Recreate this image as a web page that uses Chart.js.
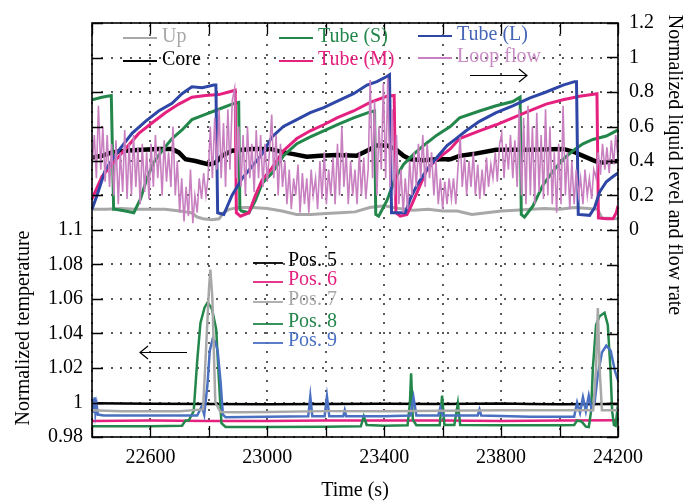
<!DOCTYPE html>
<html>
<head>
<meta charset="utf-8">
<script src="https://cdn.jsdelivr.net/npm/chart.js@4.4.0/dist/chart.umd.min.js"></script>
<style>
  html, body { margin: 0; padding: 0; background: #fff; }
</style>
</head>
<body>
<canvas id="levelChart" width="683" height="501"></canvas>
<script>
// ---- axes ----
const timeTicks = [22400, 22600, 22800, 23000, 23200, 23400, 23600, 23800, 24000, 24200];
const timeLabels = [22600, 23000, 23400, 23800, 24200];
const tempTicks = [0.98, 1.0, 1.02, 1.04, 1.06, 1.08, 1.1, 1.12, 1.14, 1.16, 1.18, 1.2, 1.22];
const tempLabels = [0.98, 1.0, 1.02, 1.04, 1.06, 1.08, 1.1];
const levelTicks = [-1.2, -1.0, -0.8, -0.6, -0.4, -0.2, 0, 0.2, 0.4, 0.6, 0.8, 1.0, 1.2];
const levelLabels = [0, 0.2, 0.4, 0.6, 0.8, 1.0, 1.2];

// ---- normalized liquid level (right axis) ----
const upTime = [22400, 22450, 22500, 22550, 22600, 22650, 22700, 22720, 22740, 22760,
                22780, 22810, 22835, 22850, 22870, 22900, 22950, 23000, 23050, 23100,
                23150, 23200, 23250, 23300, 23350, 23400, 23450, 23500, 23550, 23600,
                23650, 23700, 23750, 23800, 23850, 23900, 23950, 24000, 24050, 24100,
                24130, 24145, 24200];
const upLevel = [0.12, 0.12, 0.125, 0.12, 0.12, 0.12, 0.11, 0.105, 0.1, 0.075,
                 0.065, 0.06, 0.065, 0.1, 0.12, 0.13, 0.13, 0.125, 0.11, 0.09,
                 0.09, 0.095, 0.1, 0.105, 0.13, 0.14, 0.125, 0.115, 0.12, 0.11,
                 0.11, 0.09, 0.1, 0.11, 0.115, 0.12, 0.125, 0.12, 0.13, 0.125,
                 0.12, 0.07, 0.065];

const coreTime = [22400, 22434, 22468, 22514, 22571, 22628, 22674, 22697, 22720, 22754,
                  22777, 22800, 22822, 22845, 22879, 22948, 23010, 23055, 23090, 23135,
                  23181, 23238, 23306, 23341, 23375, 23409, 23438, 23466, 23489, 23535,
                  23580, 23626, 23658, 23703, 23783, 23897, 24012, 24046, 24080, 24114,
                  24137, 24200];
const coreLevel = [0.42, 0.43, 0.45, 0.46, 0.465, 0.47, 0.47, 0.45, 0.41, 0.40,
                   0.39, 0.38, 0.39, 0.43, 0.46, 0.47, 0.47, 0.45, 0.44, 0.425,
                   0.43, 0.435, 0.43, 0.46, 0.49, 0.49, 0.47, 0.43, 0.41, 0.405,
                   0.41, 0.41, 0.43, 0.44, 0.465, 0.465, 0.47, 0.455, 0.43, 0.405,
                   0.39, 0.40];

const tubeSTime = [22400, 22434, 22466, 22474, 22480, 22514, 22543, 22566, 22588, 22611,
                   22640, 22674, 22708, 22742, 22788, 22834, 22879, 22902, 22906, 22912,
                   22937, 22959, 22982, 23016, 23055, 23101, 23147, 23193, 23238, 23295,
                   23352, 23367, 23371, 23381, 23409, 23438, 23466, 23501, 23535, 23580,
                   23626, 23658, 23726, 23783, 23840, 23865, 23869, 23880, 23909, 23943,
                   23977, 24012, 24046, 24080, 24114, 24160, 24200];
const tubeSLevel = [0.755, 0.77, 0.78, 0.12, 0.12, 0.11, 0.1, 0.18, 0.3, 0.39,
                    0.46, 0.53, 0.58, 0.64, 0.67, 0.70, 0.73, 0.74, 0.12, 0.11,
                    0.1, 0.17, 0.27, 0.33, 0.43, 0.5, 0.54, 0.575, 0.61, 0.65,
                    0.685, 0.69, 0.09, 0.08, 0.17, 0.3, 0.38, 0.44, 0.49, 0.55,
                    0.6, 0.65, 0.69, 0.72, 0.745, 0.77, 0.09, 0.075, 0.14, 0.26,
                    0.34, 0.41, 0.46, 0.5, 0.525, 0.545, 0.58];

const tubeMTime = [22400, 22434, 22468, 22514, 22560, 22605, 22651, 22697, 22742, 22788,
                   22834, 22868, 22890, 22894, 22908, 22937, 22959, 22982, 23016, 23055,
                   23101, 23147, 23193, 23238, 23295, 23352, 23409, 23434, 23440, 23455,
                   23478, 23495, 23518, 23546, 23580, 23626, 23658, 23726, 23783, 23840,
                   23897, 23954, 24012, 24069, 24128, 24133, 24160, 24183, 24194, 24200];
const tubeMLevel = [0.18, 0.31, 0.38, 0.47, 0.56, 0.62, 0.68, 0.73, 0.77, 0.78,
                    0.785, 0.8, 0.81, 0.1, 0.08, 0.1, 0.2, 0.29, 0.36, 0.46,
                    0.53, 0.575, 0.61, 0.65, 0.69, 0.74, 0.775, 0.78, 0.1, 0.08,
                    0.09, 0.15, 0.24, 0.35, 0.41, 0.47, 0.53, 0.575, 0.61, 0.65,
                    0.69, 0.73, 0.755, 0.775, 0.79, 0.07, 0.065, 0.065, 0.1, 0.14];

const tubeLTime = [22400, 22417, 22446, 22491, 22537, 22583, 22628, 22674, 22708, 22742,
                   22777, 22817, 22824, 22830, 22851, 22879, 22914, 22948, 22982, 23016,
                   23055, 23101, 23147, 23193, 23238, 23295, 23341, 23375, 23409, 23418,
                   23425, 23438, 23472, 23489, 23512, 23546, 23580, 23615, 23646, 23680,
                   23726, 23783, 23840, 23897, 23954, 24012, 24051, 24058, 24064, 24103,
                   24120, 24137, 24160, 24183, 24200];
const tubeLLevel = [0.12, 0.2, 0.35, 0.46, 0.56, 0.63, 0.69, 0.735, 0.79, 0.83,
                    0.825, 0.84, 0.84, 0.1, 0.09, 0.2, 0.3, 0.37, 0.44, 0.54,
                    0.6, 0.64, 0.68, 0.71, 0.745, 0.79, 0.84, 0.86, 0.89, 0.9,
                    0.1, 0.1, 0.1, 0.18, 0.26, 0.35, 0.42, 0.49, 0.53, 0.575,
                    0.63, 0.68, 0.72, 0.765, 0.80, 0.84, 0.86, 0.86, 0.09, 0.085,
                    0.13, 0.22, 0.28, 0.31, 0.33];

const flowTime = [22400, 22408, 22415, 22422, 22430, 22437, 22445, 22452, 22460, 22467,
                  22475, 22482, 22490, 22497, 22505, 22512, 22520, 22527, 22535, 22542,
                  22550, 22557, 22565, 22572, 22580, 22587, 22595, 22602, 22610, 22617,
                  22625, 22632, 22640, 22647, 22655, 22662, 22670, 22677, 22685, 22692,
                  22700, 22707, 22715, 22722, 22730, 22737, 22745, 22752, 22760, 22767,
                  22775, 22782, 22790, 22797, 22805, 22812, 22820, 22827, 22835, 22842,
                  22850, 22857, 22865, 22872, 22880, 22888, 22895, 22902, 22910, 22917,
                  22925, 22932, 22940, 22947, 22955, 22962, 22970, 22977, 22985, 22992,
                  23000, 23007, 23015, 23022, 23030, 23037, 23045, 23052, 23060, 23067,
                  23075, 23082, 23090, 23097, 23105, 23112, 23120, 23127, 23135, 23142,
                  23150, 23157, 23165, 23172, 23180, 23187, 23195, 23202, 23210, 23217,
                  23225, 23232, 23240, 23247, 23255, 23262, 23270, 23277, 23285, 23292,
                  23300, 23307, 23315, 23322, 23330, 23337, 23345, 23352, 23360, 23367,
                  23375, 23382, 23390, 23397, 23405, 23412, 23420, 23427, 23435, 23442,
                  23450, 23457, 23465, 23472, 23480, 23487, 23495, 23502, 23510, 23517,
                  23525, 23532, 23540, 23547, 23555, 23562, 23570, 23577, 23585, 23592,
                  23600, 23607, 23615, 23622, 23630, 23637, 23645, 23652, 23660, 23667,
                  23675, 23682, 23690, 23697, 23705, 23712, 23720, 23727, 23735, 23742,
                  23750, 23757, 23765, 23772, 23780, 23787, 23795, 23802, 23810, 23817,
                  23825, 23832, 23840, 23847, 23855, 23862, 23870, 23877, 23885, 23892,
                  23900, 23907, 23915, 23922, 23930, 23937, 23945, 23952, 23960, 23967,
                  23975, 23982, 23990, 23997, 24005, 24012, 24020, 24027, 24035, 24042,
                  24050, 24057, 24065, 24072, 24080, 24087, 24095, 24102, 24110, 24117,
                  24125, 24132, 24140, 24147, 24155, 24162, 24170, 24177, 24185, 24192,
                  24200];
const flowRate = [0.38, 0.55, 0.3, 0.72, 0.35, 0.6, 0.28, 0.55, 0.25, 0.5,
                  0.2, 0.52, 0.15, 0.45, 0.22, 0.58, 0.18, 0.5, 0.2, 0.55,
                  0.25, 0.48, 0.15, 0.5, 0.22, 0.45, 0.18, 0.5, 0.25, 0.55,
                  0.3, 0.48, 0.2, 0.52, 0.28, 0.45, 0.25, 0.6, 0.2, 0.4,
                  0.1, 0.3, 0.05, 0.25, 0.08, 0.35, 0.04, 0.2, 0.1, 0.3,
                  0.18, 0.33, 0.2, 0.3, 0.6, 0.3, 0.65, 0.35, 0.7, 0.3,
                  0.62, 0.25, 0.7, 0.35, 0.75, 0.82, 0.3, 0.6, 0.25, 0.55,
                  0.2, 0.6, 0.3, 0.5, 0.22, 0.58, 0.3, 0.55, 0.25, 0.5,
                  0.28, 0.45, 0.67, 0.3, 0.55, 0.2, 0.5, 0.25, 0.4, 0.15,
                  0.35, 0.12, 0.3, 0.2, 0.38, 0.1, 0.33, 0.15, 0.3, 0.1,
                  0.35, 0.2, 0.3, 0.12, 0.4, 0.18, 0.45, 0.15, 0.35, 0.2,
                  0.42, 0.15, 0.5, 0.2, 0.6, 0.25, 0.45, 0.15, 0.4, 0.2,
                  0.35, 0.15, 0.45, 0.2, 0.42, 0.18, 0.35, 0.87, 0.3, 0.75,
                  0.2, 0.6, 0.35, 0.85, 0.3, 0.88, 0.25, 0.7, 0.2, 0.55,
                  0.15, 0.35, 0.1, 0.3, 0.12, 0.4, 0.2, 0.45, 0.25, 0.5,
                  0.3, 0.55, 0.25, 0.5, 0.3, 0.45, 0.2, 0.4, 0.15, 0.3,
                  0.12, 0.28, 0.15, 0.3, 0.18, 0.3, 0.15, 0.35, 0.54, 0.25,
                  0.42, 0.2, 0.4, 0.25, 0.45, 0.2, 0.38, 0.18, 0.35, 0.2,
                  0.42, 0.25, 0.38, 0.3, 0.45, 0.28, 0.5, 0.56, 0.3, 0.5,
                  0.35, 0.55, 0.3, 0.52, 0.25, 0.7, 0.2, 0.65, 0.15, 0.72,
                  0.2, 0.6, 0.15, 0.68, 0.22, 0.55, 0.18, 0.7, 0.2, 0.6,
                  0.15, 0.45, 0.1, 0.5, 0.15, 0.72, 0.2, 0.45, 0.12, 0.4,
                  0.15, 0.35, 0.2, 0.3, 0.15, 0.35, 0.2, 0.3, 0.18, 0.35,
                  0.3, 0.45, 0.32, 0.5, 0.35, 0.48, 0.33, 0.52, 0.38, 0.55,
                  0.42];

// ---- normalized temperature (left axis) ----
const pos5Time = [22400, 22600, 22800, 23000, 23200, 23400, 23600, 23800, 23900, 24000, 24200];
const pos5Temp = [0.9995, 0.9993, 0.9991, 0.999, 0.9992, 0.9993, 0.9992, 0.9994, 0.9991, 0.999, 0.9992];

const pos6Time = [22400, 22600, 22800, 23000, 23200, 23400, 23600, 23800, 24000, 24200];
const pos6Temp = [0.9893, 0.9895, 0.9893, 0.9893, 0.9895, 0.9896, 0.9895, 0.9893, 0.9895, 0.9897];

const pos7Time = [22400, 22500, 22700, 22780, 22790, 22800, 22805, 22812, 22822, 22840,
                  22900, 23000, 23200, 23400, 23600, 23800, 24000, 24115, 24125, 24131,
                  24137, 24145, 24200];
const pos7Temp = [0.9955, 0.995, 0.995, 0.996, 1.03, 1.065, 1.077, 1.06, 1.0, 0.9945,
                  0.9943, 0.9945, 0.995, 0.995, 0.9952, 0.9955, 0.9955, 0.9955, 1.02, 1.0547,
                  1.02, 0.9955, 0.9955];

const pos8Time = [22400, 22600, 22708, 22720, 22731, 22748, 22760, 22771, 22785, 22794,
                  22805, 22811, 22825, 22834, 22843, 22857, 23000, 23200, 23320, 23330,
                  23340, 23400, 23480, 23488, 23492, 23498, 23510, 23590, 23598, 23606,
                  23640, 23652, 23660, 23800, 24000, 24050, 24060, 24075, 24090, 24100,
                  24108, 24114, 24125, 24137, 24154, 24165, 24174, 24180, 24186, 24192,
                  24196, 24200];
const pos8Temp = [0.9862, 0.9862, 0.9865, 0.9895, 0.9895, 0.995, 1.024, 1.046, 1.055, 1.0576,
                  1.056, 1.0538, 1.0425, 1.014, 0.988, 0.9858, 0.9858, 0.986, 0.9862, 0.992,
                  0.987, 0.9865, 0.9868, 1.0, 1.017, 0.99, 0.9868, 0.9868, 1.004, 0.987,
                  0.987, 0.9995, 0.987, 0.9868, 0.9868, 0.987, 0.9895, 0.989, 0.986, 0.9858,
                  0.995, 1.02, 1.045, 1.05, 1.052, 1.045, 1.02, 0.995, 0.987, 0.9865,
                  0.993, 0.988];

const pos9Time = [22400, 22403, 22406, 22409, 22412, 22416, 22420, 22440, 22600, 22760,
                  22776, 22784, 22795, 22803, 22813, 22822, 22830, 22840, 22848, 22857,
                  23000, 23140, 23147, 23154, 23196, 23204, 23212, 23260, 23265, 23270,
                  23400, 23490, 23500, 23510, 23585, 23592, 23600, 23720, 23726, 23732,
                  23800, 23900, 24050, 24060, 24070, 24080, 24090, 24100, 24110, 24120,
                  24130, 24145, 24160, 24175, 24190, 24200];
const pos9Temp = [0.995, 1.002, 0.994, 1.003, 0.994, 0.9985, 0.993, 0.9925, 0.9925, 0.9925,
                  0.998, 0.993, 1.01, 1.03, 1.0368, 1.035, 1.03, 1.012, 0.993, 0.9915,
                  0.9918, 0.992, 1.0035, 0.992, 0.992, 1.0035, 0.992, 0.992, 0.9955, 0.992,
                  0.992, 0.9925, 1.003, 0.9925, 0.9925, 0.997, 0.9925, 0.9925, 0.996, 0.9925,
                  0.9922, 0.9918, 0.9918, 1.0, 0.994, 1.003, 0.995, 1.004, 0.996, 1.0,
                  1.015, 1.029, 1.033, 1.03, 1.018, 1.013];

function pairs(xs, ys) {
    return xs.map((x, i) => ({ x: x, y: ys[i] }));
}

function near(list, v) {
    return list.some(l => Math.abs(l - v) < 1e-6);
}

const FONT = 'Liberation Serif';
Chart.defaults.font.family = FONT;
Chart.defaults.font.size = 20;
Chart.defaults.color = '#000';

function line(label, xs, ys, color, width, axis, order) {
    return {
        label: label,
        data: pairs(xs, ys),
        borderColor: color,
        backgroundColor: color,
        borderWidth: width,
        pointRadius: 0,
        tension: 0,
        fill: false,
        yAxisID: axis,
        order: order
    };
}

// legend entries drawn by hand inside the plot
const upperLegend = [
    { text: 'Up', color: '#a8a8a8', line: '#a8a8a8', x: 123, y: 38 },
    { text: 'Core', color: '#000000', line: '#000000', x: 123, y: 61 },
    { text: 'Tube (S)', color: '#23874b', line: '#23874b', x: 279, y: 38 },
    { text: 'Tube (M)', color: '#e5217f', line: '#e5217f', x: 279, y: 61 },
    { text: 'Tube (L)', color: '#4766b8', line: '#2e46a6', x: 418, y: 36 },
    { text: 'Loop flow', color: '#c98bc4', line: '#c880c0', x: 418, y: 58 }
];
const lowerLegend = [
    { text: 'Pos. 5', color: '#000000', line: '#000000', x: 253, y: 263 },
    { text: 'Pos. 6', color: '#e5217f', line: '#e5217f', x: 253, y: 282 },
    { text: 'Pos. 7', color: '#a8a8a8', line: '#a8a8a8', x: 253, y: 302 },
    { text: 'Pos. 8', color: '#23874b', line: '#23874b', x: 253, y: 324 },
    { text: 'Pos. 9', color: '#4a70c2', line: '#4a70c2', x: 253, y: 343 }
];

// dotted grid, drawn under the lines
function drawGrid(chart) {
    const g = chart.ctx;
    const a = chart.chartArea;
    const xs = chart.scales.x;
    const yl = chart.scales.yL;
    g.save();
    g.fillStyle = '#5a5a5a';
    timeTicks.forEach(t => {
        const px = Math.round(xs.getPixelForValue(t));
        for (let py = a.bottom - 9; py > a.top; py -= 9.6) {
            g.fillRect(px - 1, Math.round(py), 2, 2);
        }
    });
    tempTicks.forEach(v => {
        const py = Math.round(yl.getPixelForValue(v));
        for (let px = a.left + 9; px < a.right; px += 9.6) {
            g.fillRect(Math.round(px), py - 1, 2, 2);
        }
    });
    g.restore();
}

const decor = {
    id: 'decor',
    beforeDatasetsDraw(chart) {
        drawGrid(chart);
    },
    afterDraw(chart) {
        const ctx = chart.ctx;
        const a = chart.chartArea;
        const xs = chart.scales.x;
        const yl = chart.scales.yL;
        const yr = chart.scales.yR;
        ctx.save();

        // inward tick marks
        ctx.strokeStyle = '#000';
        ctx.lineWidth = 1.3;
        ctx.beginPath();
        timeTicks.forEach(t => {
            const px = Math.round(xs.getPixelForValue(t)) + 0.5;
            ctx.moveTo(px, a.bottom); ctx.lineTo(px, a.bottom - 11);
            ctx.moveTo(px, a.top); ctx.lineTo(px, a.top + 11);
        });
        tempTicks.forEach(v => {
            const py = Math.round(yl.getPixelForValue(v)) + 0.5;
            ctx.moveTo(a.left, py); ctx.lineTo(a.left + 11, py);
        });
        levelTicks.forEach(v => {
            const py = Math.round(yr.getPixelForValue(v)) + 0.5;
            ctx.moveTo(a.right, py); ctx.lineTo(a.right - 11, py);
        });
        ctx.stroke();

        // frame
        ctx.lineWidth = 1.6;
        ctx.strokeRect(a.left, a.top, a.right - a.left, a.bottom - a.top);

        // legends
        ctx.font = '20px "' + FONT + '"';
        ctx.textAlign = 'left';
        ctx.textBaseline = 'alphabetic';
        upperLegend.concat(lowerLegend).forEach(item => {
            const upper = upperLegend.includes(item);
            const len = upper ? 34 : 30;
            ctx.strokeStyle = item.line;
            ctx.lineWidth = 1.8;
            ctx.beginPath();
            ctx.moveTo(item.x, item.y);
            ctx.lineTo(item.x + len, item.y);
            ctx.stroke();
            ctx.fillStyle = item.color;
            ctx.fillText(item.text, item.x + len + 5, item.y + (upper ? 4 : 3));
        });

        // arrows pointing at each axis
        ctx.strokeStyle = '#000';
        ctx.lineWidth = 1.2;
        ctx.beginPath();
        ctx.moveTo(470, 75.5); ctx.lineTo(527, 75.5);
        ctx.moveTo(519, 69); ctx.lineTo(527, 75.5); ctx.lineTo(519, 82);
        ctx.moveTo(187, 352.5); ctx.lineTo(140, 352.5);
        ctx.moveTo(148, 346); ctx.lineTo(140, 352.5); ctx.lineTo(148, 359);
        ctx.stroke();

        // axis titles
        ctx.fillStyle = '#000';
        ctx.textAlign = 'center';
        ctx.textBaseline = 'middle';
        ctx.fillText('Time (s)', (a.left + a.right) / 2, 491);
        ctx.save();
        ctx.translate(24, 328);
        ctx.rotate(-Math.PI / 2);
        ctx.fillText('Normalized temperature', 0, 0);
        ctx.restore();
        ctx.save();
        ctx.translate(674, 165);
        ctx.rotate(Math.PI / 2);
        ctx.fillText('Normalized liquid level and flow rate', 0, 0);
        ctx.restore();

        ctx.restore();
    }
};

const ctx = document.getElementById('levelChart').getContext('2d');
const levelChart = new Chart(ctx, {
    type: 'line',
    data: {
        datasets: [
            line('Loop flow', flowTime, flowRate, '#c880c0', 1.6, 'yR', 1),
            line('Tube (L)', tubeLTime, tubeLLevel, '#2e46a6', 3, 'yR', 2),
            line('Tube (M)', tubeMTime, tubeMLevel, '#e5217f', 3, 'yR', 3),
            line('Tube (S)', tubeSTime, tubeSLevel, '#23874b', 3, 'yR', 4),
            line('Core', coreTime, coreLevel, '#000000', 4.5, 'yR', 5),
            line('Up', upTime, upLevel, '#a8a8a8', 3, 'yR', 6),
            line('Pos. 7', pos7Time, pos7Temp, '#a8a8a8', 2.5, 'yL', 7),
            line('Pos. 9', pos9Time, pos9Temp, '#4a70c2', 2.5, 'yL', 8),
            line('Pos. 8', pos8Time, pos8Temp, '#23874b', 2.5, 'yL', 9),
            line('Pos. 6', pos6Time, pos6Temp, '#e5217f', 2.5, 'yL', 10),
            line('Pos. 5', pos5Time, pos5Temp, '#000000', 2.5, 'yL', 11)
        ]
    },
    options: {
        responsive: false,
        animation: false,
        layout: { padding: { top: 13, left: 0, right: 0, bottom: 0 } },
        scales: {
            x: {
                type: 'linear',
                min: 22400,
                max: 24200,
                afterBuildTicks: s => { s.ticks = timeTicks.map(v => ({ value: v })); },
                afterFit: s => { s.height = 64; },
                ticks: {
                    autoSkip: false,
                    maxRotation: 0,
                    padding: 9,
                    callback: v => near(timeLabels, v) ? String(v) : ''
                },
                grid: { display: false, drawTicks: false },
                border: { display: false }
            },
            yL: {
                type: 'linear',
                position: 'left',
                min: 0.98,
                max: 1.22,
                afterBuildTicks: s => { s.ticks = tempTicks.map(v => ({ value: v })); },
                afterFit: s => { s.width = 92; },
                ticks: {
                    autoSkip: false,
                    padding: 9,
                    callback: v => near(tempLabels, v) ? String(parseFloat(v.toFixed(2))) : ''
                },
                grid: { display: false, drawTicks: false },
                border: { display: false }
            },
            yR: {
                type: 'linear',
                position: 'right',
                min: -1.2,
                max: 1.2,
                afterBuildTicks: s => { s.ticks = levelTicks.map(v => ({ value: v })); },
                afterFit: s => { s.width = 65; },
                ticks: {
                    autoSkip: false,
                    padding: 11,
                    callback: v => near(levelLabels, v) ? String(parseFloat(v.toFixed(1))) : ''
                },
                grid: { display: false, drawTicks: false },
                border: { display: false }
            }
        },
        plugins: {
            legend: { display: false },
            tooltip: { enabled: false }
        }
    },
    plugins: [decor]
});
</script>
</body>
</html>
